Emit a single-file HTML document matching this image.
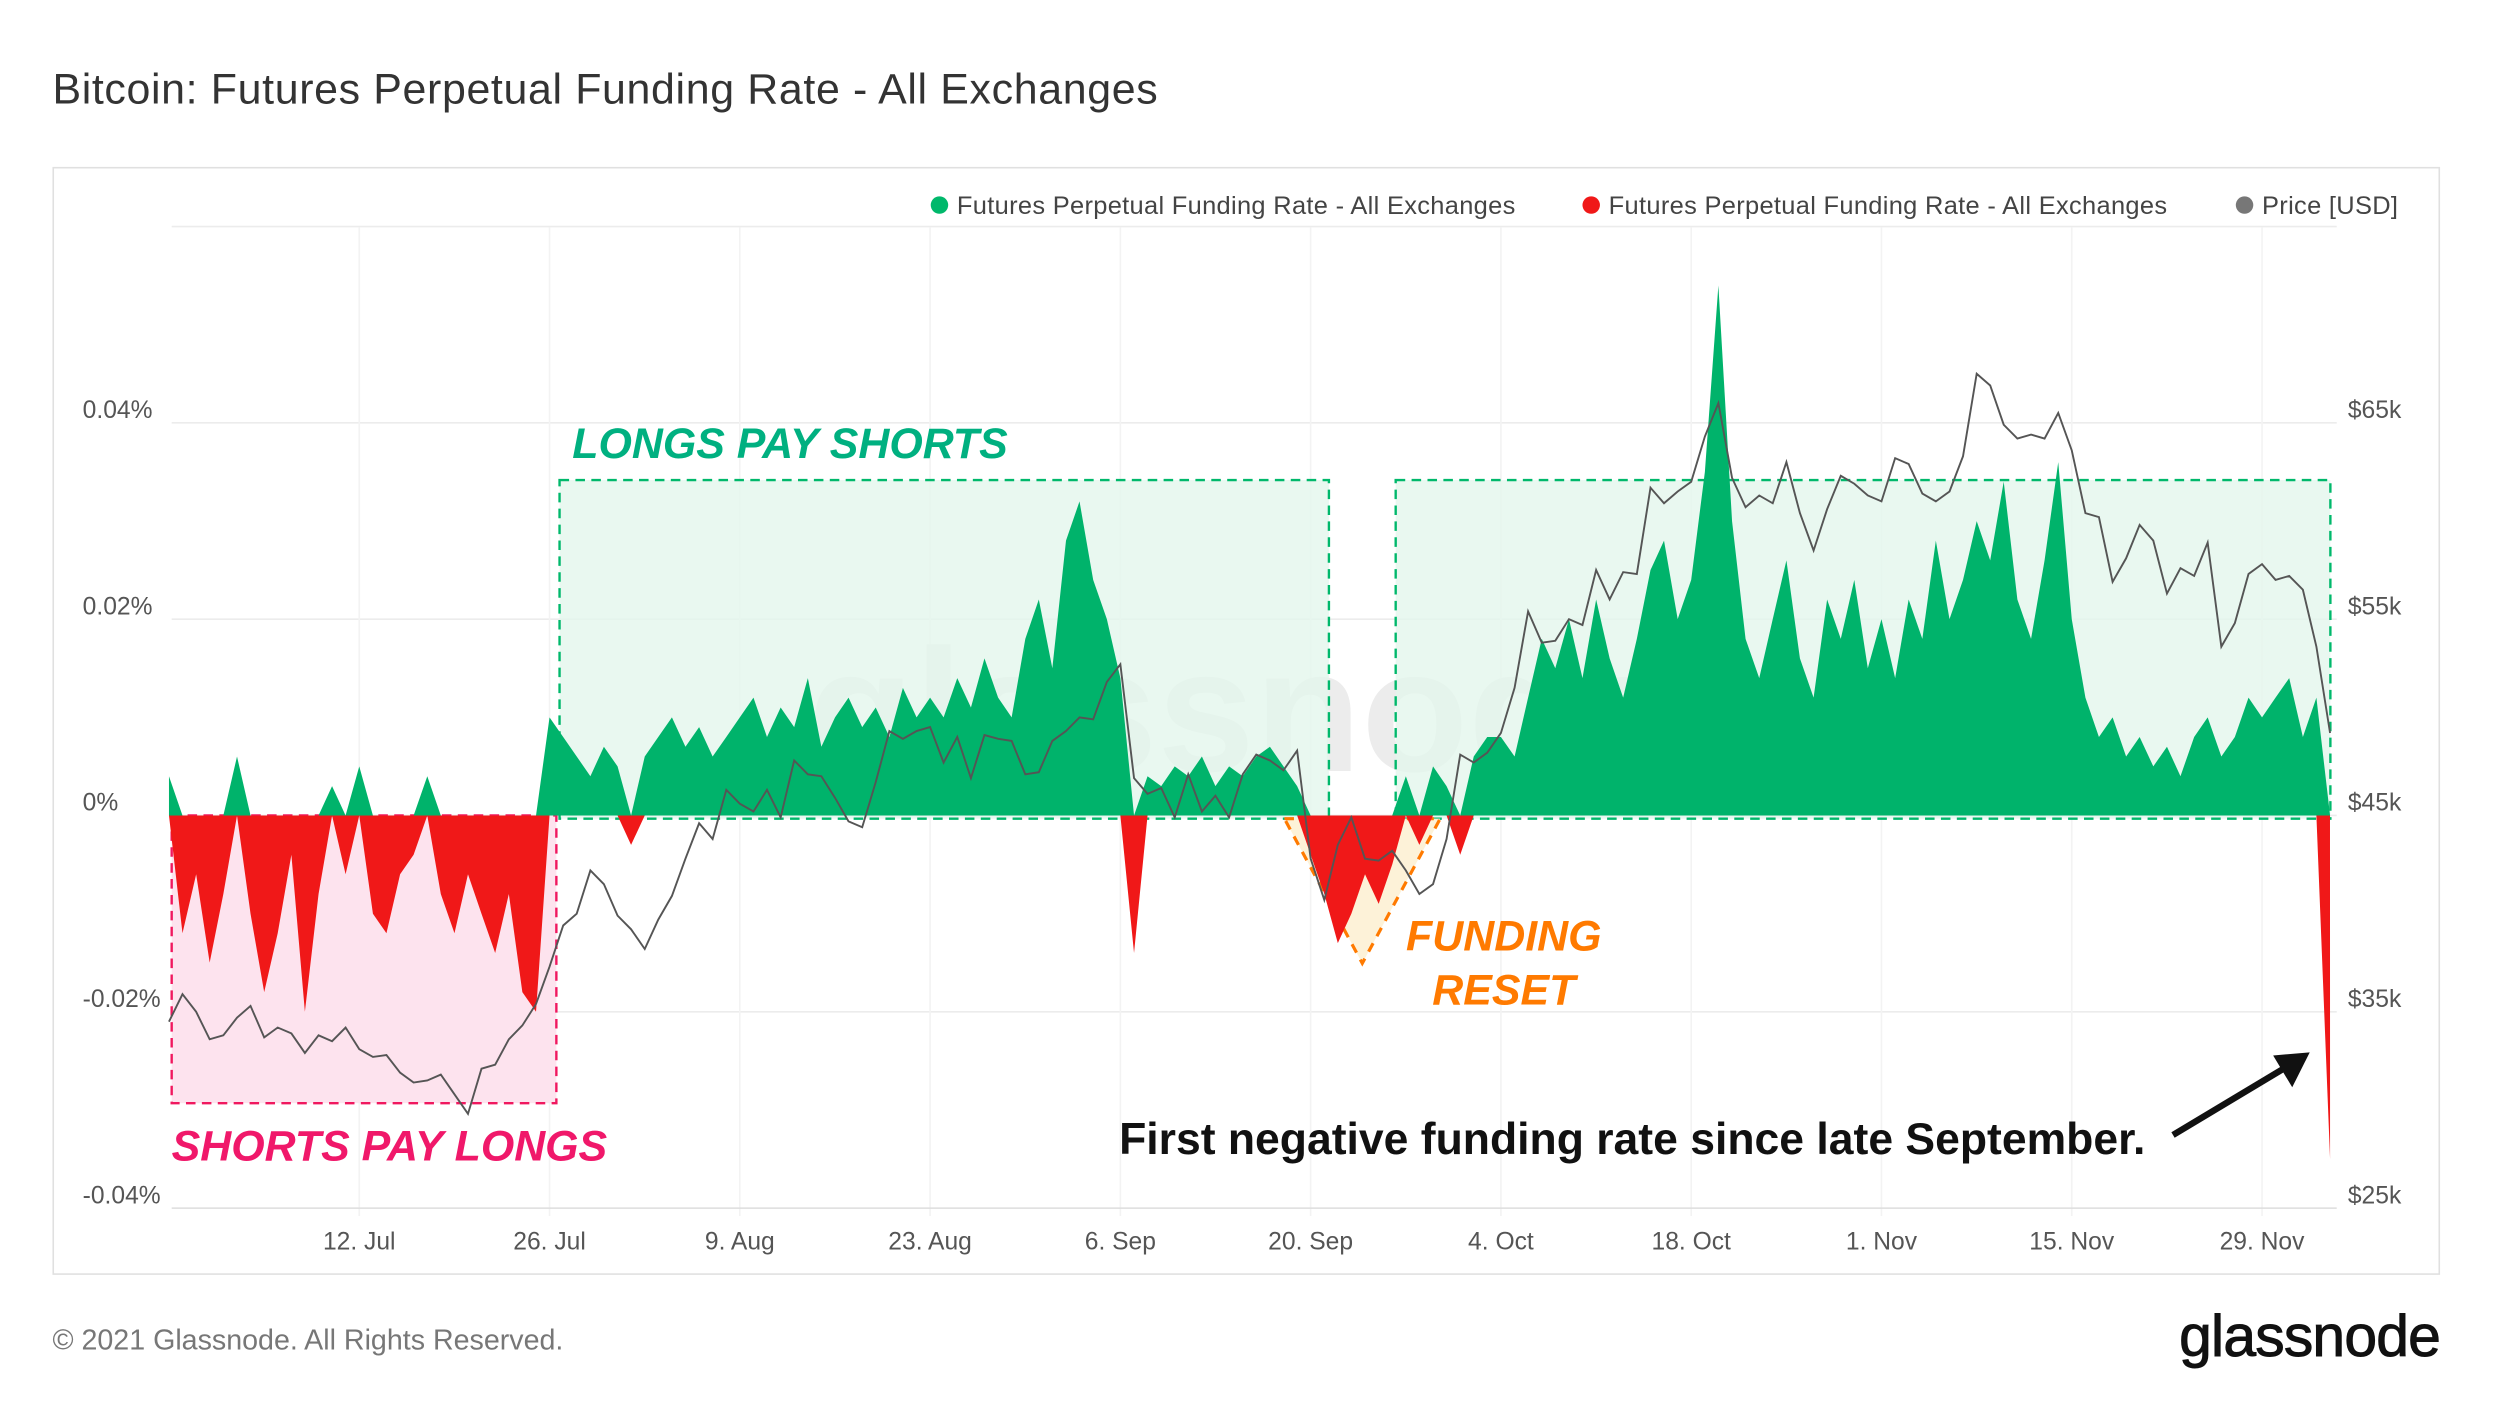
<!DOCTYPE html>
<html><head><meta charset="utf-8">
<style>
html,body{margin:0;padding:0;background:#fff;}
svg{display:block;font-family:"Liberation Sans",sans-serif;}
</style></head>
<body>
<svg id="chart" width="2493" height="1403" viewBox="0 0 1568.3 882.6" xmlns="http://www.w3.org/2000/svg">
<rect x="0" y="0" width="1570" height="884" fill="#fff"/>
<text x="33" y="65" font-size="27" letter-spacing="0.4" fill="#333">Bitcoin: Futures Perpetual Funding Rate - All Exchanges</text>
<rect x="33.5" y="105.5" width="1501" height="696" fill="none" stroke="#e0e0e0"/>
<g id="grid"></g>
<text x="780" y="485" font-size="110" fill="#ececec" text-anchor="middle" font-weight="bold">glassnode</text>
<rect x="352" y="302" width="484" height="213" fill="#e3f6ec" fill-opacity="0.8" stroke="#00b86b" stroke-width="1.5" stroke-dasharray="6,4"/>
<rect x="878" y="302" width="588" height="213" fill="#e3f6ec" fill-opacity="0.8" stroke="#00b86b" stroke-width="1.5" stroke-dasharray="6,4"/>
<rect x="108" y="513" width="242" height="181" fill="#fde3ee" stroke="#f0185f" stroke-width="1.5" stroke-dasharray="6,4"/>
<polygon points="808,515 906,515 857,606" fill="#fdf2d8" stroke="#ff7a00" stroke-width="2" stroke-dasharray="6,5"/>
<g id="series"></g>
<g id="axes"></g>
<g font-size="16" fill="#444" letter-spacing="0.2">
 <g><circle cx="591" cy="129" r="5.5" fill="#00b86b"/><text x="602" y="134.5">Futures Perpetual Funding Rate - All Exchanges</text></g>
 <g><circle cx="1001" cy="129" r="5.5" fill="#f01818"/><text x="1012" y="134.5">Futures Perpetual Funding Rate - All Exchanges</text></g>
 <g><circle cx="1412" cy="129" r="5.5" fill="#777"/><text x="1423" y="134.5">Price [USD]</text></g>
</g>
<text x="360" y="288" font-size="27" font-weight="bold" font-style="italic" fill="#00b080">LONGS PAY SHORTS</text>
<text x="108" y="730" font-size="27" font-weight="bold" font-style="italic" fill="#f0186a">SHORTS PAY LONGS</text>
<text x="946" y="598" font-size="27" font-weight="bold" font-style="italic" fill="#ff7a00" text-anchor="middle">FUNDING</text>
<text x="946" y="632" font-size="27" font-weight="bold" font-style="italic" fill="#ff7a00" text-anchor="middle">RESET</text>
<text x="704" y="726" font-size="28" font-weight="bold" fill="#111">First negative funding rate since late September.</text>
<g>
 <line x1="1367" y1="714" x2="1437" y2="672" stroke="#111" stroke-width="4"/>
 <polygon points="1453,662 1430,664 1442,684" fill="#111"/>
</g>
<text x="33" y="849" font-size="18" fill="#777">© 2021 Glassnode. All Rights Reserved.</text>
<text x="1535" y="853" font-size="37" fill="#111" stroke="#111" stroke-width="0.6" text-anchor="end" letter-spacing="-0.5">glassnode</text>
</svg>
<script>
const fundingRate = [
0.004,-0.012,-0.006,-0.015,-0.008,0.006,-0.010,-0.018,-0.012,-0.004,-0.020,-0.008,0.003,-0.006,
0.005,-0.010,-0.012,-0.006,-0.004,0.004,-0.008,-0.012,-0.006,-0.010,-0.014,-0.008,-0.018,-0.020,
0.010,0.008,0.006,0.004,0.007,0.005,-0.003,0.006,0.008,0.010,0.007,0.009,0.006,0.008,
0.010,0.012,0.008,0.011,0.009,0.014,0.007,0.010,0.012,0.009,0.011,0.008,0.013,0.010,
0.012,0.010,0.014,0.011,0.016,0.012,0.010,0.018,0.022,0.015,0.028,0.032,0.024,0.020,
0.014,-0.014,0.004,0.003,0.005,0.004,0.006,0.003,0.005,0.004,0.006,0.007,0.005,0.003,
-0.004,-0.008,-0.013,-0.010,-0.006,-0.009,-0.005,0.004,-0.003,0.005,0.003,-0.004,0.006,0.008,
0.008,0.006,0.012,0.018,0.015,0.020,0.014,0.022,0.016,0.012,0.018,0.025,0.028,0.020,
0.024,0.035,0.054,0.030,0.018,0.014,0.020,0.026,0.016,0.012,0.022,0.018,0.024,0.015,
0.020,0.014,0.022,0.018,0.028,0.020,0.024,0.030,0.026,0.034,0.022,0.018,0.026,0.036,
0.020,0.012,0.008,0.010,0.006,0.008,0.005,0.007,0.004,0.008,0.010,0.006,0.008,0.012,
0.010,0.012,0.014,0.008,0.012,-0.035];
const priceK = [
34.5,35.9,35.0,33.6,33.8,34.7,35.3,33.7,34.2,33.9,32.9,33.8,33.5,34.2,
33.1,32.7,32.8,31.9,31.4,31.5,31.8,30.8,29.8,32.1,32.3,33.6,34.3,35.4,
37.3,39.4,40.0,42.2,41.5,39.9,39.2,38.2,39.7,40.9,42.8,44.6,43.8,46.3,
45.6,45.2,46.3,44.9,47.8,47.1,47.0,45.9,44.7,44.4,46.7,49.3,48.9,49.3,
49.5,47.7,49.0,46.9,49.1,48.9,48.8,47.1,47.2,48.8,49.3,50.0,49.9,51.8,
52.7,46.9,46.1,46.4,44.9,47.1,45.2,46.0,44.9,47.1,48.1,47.8,47.3,48.3,
42.8,40.7,43.5,44.9,42.8,42.7,43.2,42.2,41.0,41.5,43.8,48.1,47.7,48.2,
49.2,51.5,55.4,53.8,53.9,55.0,54.7,57.5,56.0,57.4,57.3,61.7,60.9,61.5,
62.0,64.3,66.0,62.2,60.7,61.3,60.9,63.0,60.4,58.5,60.6,62.3,61.9,61.3,
61.0,63.2,62.9,61.4,61.0,61.5,63.3,67.5,66.9,64.9,64.2,64.4,64.2,65.5,
63.6,60.4,60.2,56.9,58.1,59.8,59.0,56.3,57.6,57.2,58.9,53.6,54.8,57.3,
57.8,57.0,57.2,56.5,53.6,49.2];
const xTickLabels = ["12. Jul","26. Jul","9. Aug","23. Aug","6. Sep","20. Sep","4. Oct","18. Oct","1. Nov","15. Nov","29. Nov"];
const xTickDays = [14,28,42,56,70,84,98,112,126,140,154];
const leftTicks = [0.04,0.02,0,-0.02,-0.04];
const leftTickLabels = ["0.04%","0.02%","0%","-0.02%","-0.04%"];
const rightTicks = [65,55,45,35,25];
const rightTickLabels = ["$65k","$55k","$45k","$35k","$25k"];

const NS="http://www.w3.org/2000/svg";
const X0=106.3, DX=8.55, Y0=513, PER=123.5;
function xS(d){return X0+d*DX;}
function yF(v){return Y0 - v/0.02*PER;}
function yP(p){return Y0 - (p-45)/10*PER;}
function mk(tag,attrs,parent){const e=document.createElementNS(NS,tag);for(const k in attrs)e.setAttribute(k,attrs[k]);parent.appendChild(e);return e;}

const grid=document.getElementById('grid');
[0.06,0.04,0.02,0,-0.02].forEach(v=>{
  const l=mk('line',{x1:108,x2:1470,y1:yF(v),y2:yF(v),stroke:'#ececec'},grid);
  
  
});
xTickDays.forEach(d=>{
  const l=mk('line',{x1:xS(d),x2:xS(d),y1:143,y2:765,stroke:'#f3f3f3'},grid);
  
  
});

const series=document.getElementById('series');
function area(sign,color,name){
  let d='M'+xS(0)+','+Y0;
  fundingRate.forEach((v,i)=>{
    const vv = sign>0?Math.max(v,0):Math.min(v,0);
    d+=' L'+xS(i).toFixed(1)+','+yF(vv).toFixed(1);
  });
  d+=' L'+xS(fundingRate.length-1)+','+Y0+' Z';
  const p=mk('path',{d:d,fill:color},series);
  
  
}
area(1,'#00b36b','positive-funding-area');
area(-1,'#f01818','negative-funding-area');
let pd='';
priceK.forEach((p,i)=>{pd+=(i?' L':'M')+xS(i).toFixed(1)+','+yP(p).toFixed(1);});
const pl=mk('path',{d:pd,fill:'none',stroke:'#555','stroke-width':1.2},series);



const axes=document.getElementById('axes');
mk('line',{x1:108,x2:1470,y1:760,y2:760,stroke:'#ddd'},axes);
xTickDays.forEach((d,i)=>{
  const t=mk('text',{x:xS(d),y:786,'font-size':15.5,fill:'#555','text-anchor':'middle'},axes);
  t.textContent=xTickLabels[i];
  
  
});
leftTicks.forEach((v,i)=>{
  const t=mk('text',{x:52,y:yF(v)-3,'font-size':15.5,fill:'#555'},axes);
  t.textContent=leftTickLabels[i];
  
  
});
rightTicks.forEach((p,i)=>{
  const t=mk('text',{x:1477,y:yP(p)-3,'font-size':15.5,fill:'#555'},axes);
  t.textContent=rightTickLabels[i];
  
  
});
</script>
</body></html>
